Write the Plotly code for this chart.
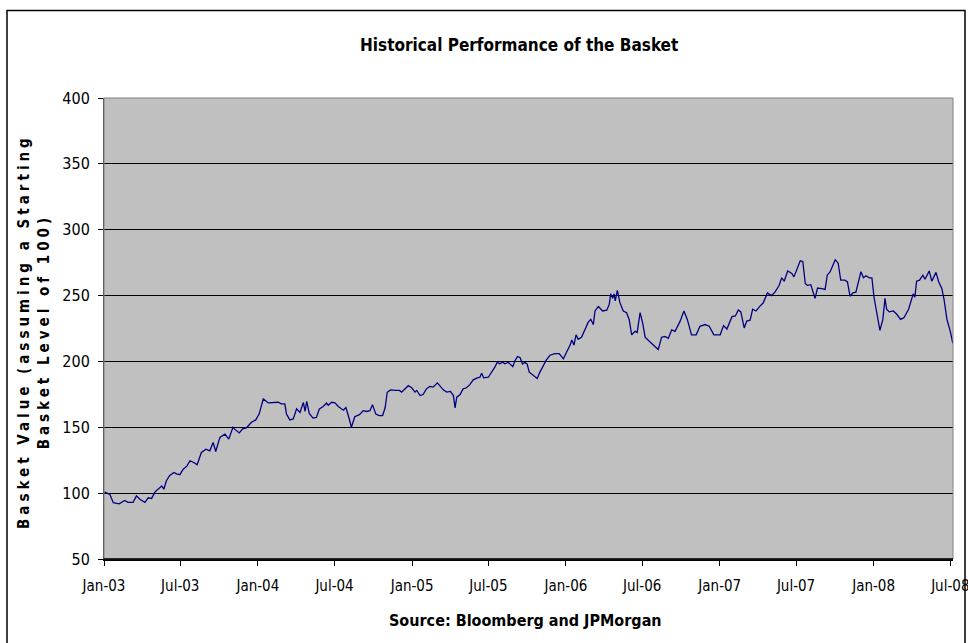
import plotly.graph_objects as go

# ---- data ----
dates_2003 = ["2003-01-02","2003-01-15","2003-01-23","2003-02-06","2003-02-19","2003-02-27","2003-03-11","2003-03-19","2003-03-27","2003-04-08",
              "2003-04-16","2003-04-24","2003-05-02","2003-05-12","2003-05-18","2003-05-23","2003-05-29","2003-06-06","2003-06-16","2003-06-22",
              "2003-06-30","2003-07-08","2003-07-17","2003-07-24","2003-08-02","2003-08-10","2003-08-20","2003-08-31","2003-09-09","2003-09-17",
              "2003-09-23","2003-10-03","2003-10-15","2003-10-24","2003-11-03","2003-11-07","2003-11-18","2003-11-26","2003-12-05","2003-12-17",
              "2003-12-27"]
values_2003 = [101, 99, 92.8, 91.9, 94.5, 93, 93, 97.9, 95.3, 93,
               96.5, 96, 101, 104, 105.5, 103, 109.4, 113.4, 115.7, 114.6,
               114, 118.2, 120.7, 124.6, 123.3, 121.5, 130.9, 133.4, 132.1, 138.5,
               131.6, 142.3, 144.8, 141, 150, 148.6, 145.7, 148.8, 149.6, 153.8,
               155.6]

dates_2004 = ["2004-01-04","2004-01-14","2004-01-26","2004-02-10","2004-02-18","2004-02-26","2004-03-05","2004-03-09","2004-03-17","2004-03-25",
              "2004-04-02","2004-04-10","2004-04-18","2004-04-22","2004-04-26","2004-05-02","2004-05-11","2004-05-19","2004-05-26","2004-06-04",
              "2004-06-12","2004-06-16","2004-06-24","2004-07-02","2004-07-10","2004-07-22","2004-07-28","2004-08-05","2004-08-10","2004-08-18",
              "2004-08-29","2004-09-07","2004-09-15","2004-09-23","2004-09-29","2004-10-07","2004-10-15","2004-10-23","2004-10-29","2004-11-03",
              "2004-11-11","2004-11-21","2004-12-02","2004-12-07","2004-12-15","2004-12-23","2004-12-31"]
values_2004 = [160, 171.5, 168.5, 168.5, 169, 167.8, 167.8, 160, 155.6, 156.3,
               164, 161.3, 168.9, 162, 169.6, 160.5, 157, 157.5, 164, 165.8,
               168.4, 166.7, 169, 168.5, 165.8, 163, 165, 156.3, 150, 158,
               159.6, 162.6, 162, 162.6, 167.2, 160, 158.9, 158.9, 164.8, 176.6,
               178.4, 178, 178, 176.7, 179.2, 181.6, 180]

dates_2005 = ["2005-01-08","2005-01-12","2005-01-20","2005-01-27","2005-02-04","2005-02-12","2005-02-20","2005-03-02","2005-03-08","2005-03-16",
              "2005-03-24","2005-04-02","2005-04-09","2005-04-13","2005-04-17","2005-04-25","2005-05-02","2005-05-10","2005-05-18","2005-05-26",
              "2005-06-05","2005-06-11","2005-06-15","2005-06-20","2005-07-01","2005-07-09","2005-07-17","2005-07-22","2005-07-28","2005-08-04",
              "2005-08-09","2005-08-17","2005-08-28","2005-09-02","2005-09-08","2005-09-14","2005-09-20","2005-09-26","2005-10-01","2005-10-06",
              "2005-10-16","2005-10-25","2005-10-31","2005-11-08","2005-11-15","2005-11-24","2005-12-06","2005-12-16","2005-12-26"]
values_2005 = [176.7, 178, 174.1, 174.9, 179.2, 181, 180.5, 183.7, 181.6, 178.4,
               176.7, 177.2, 174.1, 164.7, 172.9, 174.9, 179.2, 180, 182.4, 186,
               187.5, 188, 191, 187.5, 188, 191.8, 196, 199.4, 198.2, 199.4,
               198.2, 199.4, 196, 200.5, 203.7, 203, 198, 199.4, 198, 191.8,
               189.5, 187, 191.7, 196.9, 200.8, 204.7, 206, 206, 202]

dates_2006 = ["2006-01-03","2006-01-11","2006-01-15","2006-01-20","2006-01-25","2006-01-30","2006-02-07","2006-02-15","2006-02-23","2006-03-01",
              "2006-03-07","2006-03-11","2006-03-19","2006-03-29","2006-04-08","2006-04-14","2006-04-17","2006-04-22","2006-04-25","2006-04-28",
              "2006-05-03","2006-05-09","2006-05-17","2006-05-25","2006-05-31","2006-06-06","2006-06-14","2006-06-19","2006-06-26","2006-07-02",
              "2006-07-08","2006-07-19","2006-07-29","2006-08-08","2006-08-16","2006-08-24","2006-09-01","2006-09-09","2006-09-17","2006-09-29",
              "2006-10-08","2006-10-16","2006-10-26","2006-11-06","2006-11-15","2006-11-27","2006-12-07","2006-12-18"]
values_2006 = [207.3, 212.4, 216.3, 212.4, 220.2, 216.8, 218.4, 224, 229.8, 231.9,
               228, 238.3, 241.7, 238.3, 238.9, 243.5, 251.3, 248, 251.3, 246,
               253.9, 244.8, 238.3, 237, 231.9, 220.2, 222.8, 222, 237, 229.3,
               218.4, 215, 211.7, 209, 218.4, 218.9, 217.6, 224, 222.8, 230.6,
               238.3, 231.9, 220.2, 220.2, 226.7, 228, 226.7, 220.2]

dates_2007 = ["2007-01-02","2007-01-10","2007-01-18","2007-01-30","2007-02-07","2007-02-14","2007-02-20","2007-02-28","2007-03-06","2007-03-14",
              "2007-03-20","2007-03-28","2007-04-07","2007-04-14","2007-04-24","2007-05-04","2007-05-12","2007-05-22","2007-05-28","2007-06-03",
              "2007-06-11","2007-06-21","2007-06-26","2007-07-03","2007-07-11","2007-07-17","2007-07-23","2007-07-28","2007-08-05","2007-08-15",
              "2007-08-21","2007-08-31","2007-09-08","2007-09-13","2007-09-20","2007-10-02","2007-10-09","2007-10-15","2007-10-25","2007-10-31",
              "2007-11-06","2007-11-13","2007-11-20","2007-11-26","2007-12-02","2007-12-08","2007-12-14","2007-12-22","2007-12-28"]
values_2007 = [220.2, 227.2, 224.6, 234, 234.5, 239.1, 237.6, 225.4, 230.6, 231.3,
               239.6, 238.3, 242.2, 244.3, 252, 250, 252.6, 257.8, 263.5, 260.9,
               268.7, 266.8, 264.2, 269.4, 276.4, 275.9, 259, 257.8, 258.3, 247.9,
               255.7, 255.2, 254.7, 265.5, 268.1, 277.2, 274.6, 261.7, 261.7, 260.4,
               249.5, 252, 252.6, 260.4, 268.1, 263.5, 265, 263.5, 263.5]

dates_2008 = ["2008-01-02","2008-01-07","2008-01-12","2008-01-16","2008-01-23","2008-01-28","2008-02-01","2008-02-07","2008-02-17","2008-02-25",
              "2008-03-05","2008-03-13","2008-03-24","2008-03-29","2008-04-04","2008-04-08","2008-04-12","2008-04-19","2008-04-27","2008-05-02",
              "2008-05-08","2008-05-12","2008-05-18","2008-05-24","2008-05-28","2008-06-03","2008-06-11","2008-06-16","2008-06-23","2008-07-01",
              "2008-07-07"]
values_2008 = [248.7, 239.6, 229.3, 223.6, 231.9, 247.9, 239.6, 237.6, 238.3, 235.8,
               231.9, 233.2, 239.6, 244.8, 251.3, 248.7, 260.9, 261.7, 265.5, 262.4,
               266, 268.7, 260.9, 265.5, 267.6, 260.9, 255.2, 247.4, 231.9, 222.8,
               213.7]

y_ticks = [50, 100, 150, 200, 250, 300, 350, 400]

dates = dates_2003 + dates_2004 + dates_2005 + dates_2006 + dates_2007 + dates_2008
values = values_2003 + values_2004 + values_2005 + values_2006 + values_2007 + values_2008
if len(dates) != len(values):
    raise ValueError(f"length mismatch {len(dates)} vs {len(values)}")

NARROW = "Liberation Sans Narrow, Arial Narrow, DejaVu Sans Condensed, sans-serif"

fig = go.Figure()
fig.add_trace(go.Scatter(
    x=dates, y=values, mode="lines",
    line=dict(color="#000080", width=1.3),
    showlegend=False, hoverinfo="x+y",
))

W, H = 968, 643
L, R, T, B = 104, 15, 98, 84
pw, ph = W - L - R, H - T - B

def px_x(px):
    return (px - L) / pw

def px_y(py):
    return (H - B - py) / ph

fig.update_layout(
    width=W, height=H, autosize=False,
    margin=dict(l=L, r=R, t=T, b=B, pad=0, autoexpand=False),
    paper_bgcolor="white",
    plot_bgcolor="#C0C0C0",
    font=dict(family=NARROW, color="black"),
    xaxis=dict(
        type="date",
        range=["2003-01-01", "2008-07-07 10:00"],
        tick0="2003-01-01", dtick="M6", tickformat="%b-%y",
        ticks="outside", ticklen=5, tickwidth=1, tickcolor="black",
        showgrid=False, showline=True, linecolor="black", linewidth=1.5,
        tickfont=dict(family=NARROW, size=15, color="black"),
        ticklabeloverflow="allow", ticklabelstandoff=7, automargin=False,
        zeroline=False,
    ),
    yaxis=dict(
        range=[50, 400],
        tickvals=y_ticks,
        ticks="outside", ticklen=5, tickwidth=1, tickcolor="black",
        showgrid=True, gridcolor="black", gridwidth=1,
        showline=True, linecolor="#404040", linewidth=1,
        tickfont=dict(family=NARROW, size=16, color="black"),
        ticklabelstandoff=5, automargin=False,
        zeroline=False,
    ),
    shapes=[
        dict(type="rect", xref="paper", yref="paper", x0=0, x1=1, y0=0, y1=1,
             line=dict(color="#808080", width=1), fillcolor="rgba(0,0,0,0)", layer="above"),
        dict(type="line", xref="paper", yref="paper", x0=0, x1=1, y0=0, y1=0,
             line=dict(color="black", width=1.5), layer="above"),
        dict(type="rect", xref="paper", yref="paper",
             x0=px_x(7), x1=px_x(965), y0=px_y(660), y1=px_y(10.5),
             line=dict(color="black", width=1.5), fillcolor="rgba(0,0,0,0)", layer="below"),
    ],
    annotations=[
        dict(text="<b>Historical Performance of the Basket</b>", xref="paper", yref="paper",
             x=px_x(519), y=px_y(45), xanchor="center", yanchor="middle", showarrow=False,
             font=dict(family=NARROW, size=17, color="black")),
        dict(text="<b>Source: Bloomberg and JPMorgan</b>", xref="paper", yref="paper",
             x=px_x(525), y=px_y(620), xanchor="center", yanchor="middle", showarrow=False,
             font=dict(family=NARROW, size=16, color="black")),
        dict(text="<span style='letter-spacing:4px'><b>Basket Value (assuming a Starting</b></span><br>"
                  "<span style='letter-spacing:4px'><b>Basket Level of 100)</b></span>",
             xref="paper", yref="paper", x=px_x(34), y=px_y(332), xanchor="center", yanchor="middle",
             textangle=-90, showarrow=False, align="center",
             font=dict(family=NARROW, size=15, color="black")),
    ],
)

fig.write_html("out.html", config={"displayModeBar": False},
               post_script="document.body.style.margin='0';document.body.style.overflow='hidden';")
